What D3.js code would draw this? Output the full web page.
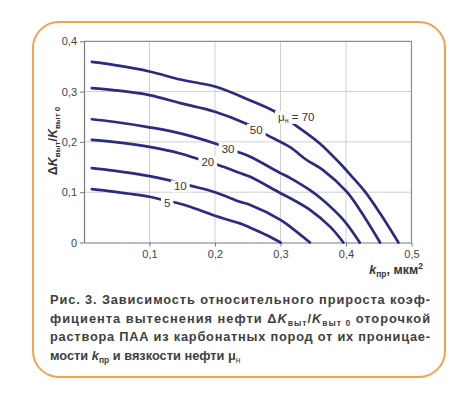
<!DOCTYPE html>
<html lang="ru">
  <head>
    <meta charset="UTF-8" />
    <title>Прирост коэффициента вытеснения</title>
    <script src="https://d3js.org/d3.v7.min.js"></script>
    <style>
      body { margin: 0; background: #fff; }
      svg text { font-family: 'Liberation Sans', Arial, sans-serif; }
      .tick text { font-size: 11px; fill: #444; }
      .curve-label { font-size: 11.5px; fill: #333; }
    </style>
  </head>
  <body>
    <div id="chart"></div>
    <script>
      // viscosity of oil, mPa*s (one curve each)
      const viscosity = [5, 10, 20, 30, 50, 70];

      // permeability k_пр, mkm2  /  relative increment ΔK/K0
      const k5 = [0.012, 0.045, 0.1, 0.119, 0.141, 0.162, 0.2, 0.238, 0.253, 0.28, 0.3];
      const v5 = [0.106, 0.101, 0.091, 0.085, 0.079, 0.071, 0.053, 0.038, 0.03, 0.014, 0];

      const k10 = [0.012, 0.045, 0.1, 0.129, 0.162, 0.2, 0.238, 0.253, 0.3, 0.315, 0.345];
      const v10 = [0.148, 0.143, 0.132, 0.124, 0.113, 0.1, 0.081, 0.075, 0.045, 0.031, 0];

      const k20 = [0.012, 0.045, 0.1, 0.147, 0.172, 0.205, 0.238, 0.253, 0.3, 0.315, 0.345, 0.376, 0.396];
      const v20 = [0.204, 0.2, 0.19, 0.177, 0.167, 0.154, 0.138, 0.131, 0.098, 0.088, 0.065, 0.031, 0];

      const k30 = [0.012, 0.045, 0.1, 0.147, 0.2, 0.233, 0.253, 0.3, 0.315, 0.345, 0.365, 0.396, 0.421];
      const v30 = [0.245, 0.24, 0.229, 0.217, 0.197, 0.181, 0.171, 0.138, 0.128, 0.104, 0.084, 0.045, 0];

      const k50 = [0.012, 0.045, 0.1, 0.147, 0.2, 0.246, 0.279, 0.314, 0.34, 0.365, 0.401, 0.421, 0.452];
      const v50 = [0.307, 0.303, 0.293, 0.277, 0.26, 0.237, 0.214, 0.19, 0.164, 0.144, 0.101, 0.065, 0];

      const k70 = [0.012, 0.045, 0.1, 0.147, 0.2, 0.253, 0.292, 0.322, 0.36, 0.391, 0.409, 0.429, 0.452, 0.48];
      const v70 = [0.359, 0.353, 0.34, 0.324, 0.31, 0.283, 0.26, 0.234, 0.197, 0.157, 0.131, 0.101, 0.058, 0];

      // where each curve label sits (in data units)
      const labelK = [0.127, 0.147, 0.189, 0.22, 0.263, 0.324];
      const labelV = [0.079, 0.112, 0.16, 0.187, 0.224, 0.25];

      const xTicks = [0.1, 0.2, 0.3, 0.4, 0.5];
      const yTicks = [0, 0.1, 0.2, 0.3, 0.4];

      const captionLines = [
        'Рис. 3. Зависимость относительного прироста коэф-',
        'фициента вытеснения нефти ',
        'раствора ПАА из карбонатных пород от их проницае-',
        'мости '
      ];

      const series = [
        { k: k5, v: v5 },
        { k: k10, v: v10 },
        { k: k20, v: v20 },
        { k: k30, v: v30 },
        { k: k50, v: v50 },
        { k: k70, v: v70 }
      ].map((s, i) => ({
        mu: viscosity[i],
        lk: labelK[i],
        lv: labelV[i],
        points: s.k.map((d, j) => ({ k: d, v: s.v[j] }))
      }));

      const W = 476, H = 399;
      const margin = { top: 41.3, left: 84 };
      const width = 327.5, height = 201.2;

      const root = d3.select('#chart').append('svg')
        .attr('width', W)
        .attr('height', H);

      // orange frame around figure + caption
      root.append('rect')
        .attr('x', 33).attr('y', 22)
        .attr('width', 412).attr('height', 355)
        .attr('rx', 26).attr('ry', 26)
        .attr('fill', '#fff')
        .attr('stroke', '#f4a24a')
        .attr('stroke-width', 2);

      const svg = root.append('g')
        .attr('transform', 'translate(' + margin.left + ',' + margin.top + ')');

      const x = d3.scaleLinear().domain([0, 0.5]).range([0, width]);
      const y = d3.scaleLinear().domain([0, 0.4]).range([height, 0]);

      const fmt = (d) => (d === 0 ? '0' : d3.format('.1f')(d).replace('.', ','));

      // grid
      svg.append('g')
        .selectAll('line')
        .data(xTicks.slice(0, -1))
        .join('line')
        .attr('x1', (d) => x(d)).attr('x2', (d) => x(d))
        .attr('y1', 0).attr('y2', height)
        .attr('stroke', '#cfcfcf');
      svg.append('g')
        .selectAll('line')
        .data(yTicks.slice(1, -1))
        .join('line')
        .attr('x1', 0).attr('x2', width)
        .attr('y1', (d) => y(d)).attr('y2', (d) => y(d))
        .attr('stroke', '#cfcfcf');

      // top and right border
      svg.append('path')
        .attr('d', 'M0,' + y(0.4) + 'H' + x(0.5) + 'V' + y(0))
        .attr('fill', 'none')
        .attr('stroke', '#8c8c8c')
        .attr('stroke-width', 1.2);

      const xAxis = svg.append('g')
        .attr('transform', 'translate(0,' + height + ')')
        .call(d3.axisBottom(x).tickValues(xTicks).tickFormat(fmt).tickSize(4).tickPadding(4).tickSizeOuter(0));
      const yAxis = svg.append('g')
        .call(d3.axisLeft(y).tickValues(yTicks).tickFormat(fmt).tickSize(4).tickPadding(3).tickSizeOuter(0));
      [xAxis, yAxis].forEach((a) => {
        a.select('.domain').attr('stroke', '#7a7a7a').attr('stroke-width', 1.2);
        a.selectAll('.tick line').attr('stroke', '#7a7a7a');
      });

      const line = d3.line()
        .x((d) => x(d.k))
        .y((d) => y(d.v))
        .curve(d3.curveCatmullRom.alpha(0.5));

      svg.append('g')
        .selectAll('path')
        .data(series)
        .join('path')
        .attr('d', (d) => line(d.points))
        .attr('fill', 'none')
        .attr('stroke', '#2c2b82')
        .attr('stroke-width', 2.7)
        .attr('stroke-linecap', 'round');

      // curve labels with white gap behind them
      const labels = svg.append('g')
        .selectAll('g')
        .data(series)
        .join('g')
        .attr('transform', (d) => 'translate(' + x(d.lk) + ',' + y(d.lv) + ')');
      const bg = labels.append('rect').attr('fill', '#fff');
      const lt = labels.append('text')
        .attr('class', 'curve-label')
        .attr('text-anchor', 'middle')
        .attr('dy', '0.36em');
      lt.each(function (d) {
        const t = d3.select(this);
        if (d.mu === 70) {
          t.append('tspan').text('μ');
          t.append('tspan').attr('font-size', '7px').attr('dy', '2').text('н');
          t.append('tspan').attr('dy', '-2').text(' = 70');
        } else {
          t.text(d.mu);
        }
      });
      bg.each(function () {
        const b = this.parentNode.querySelector('text').getBBox();
        d3.select(this)
          .attr('x', b.x - 3).attr('y', b.y)
          .attr('width', b.width + 6).attr('height', b.height);
      });

      // axis titles
      const yt = root.append('text')
        .attr('transform', 'translate(57,141) rotate(-90)')
        .attr('text-anchor', 'middle')
        .attr('font-size', '12.5px')
        .attr('font-weight', 'bold')
        .attr('fill', '#333');
      yt.append('tspan').text('Δ');
      yt.append('tspan').attr('font-style', 'italic').text('K');
      yt.append('tspan').attr('font-size', '8px').attr('dy', 3).text('выт');
      yt.append('tspan').attr('dy', -3).text('/');
      yt.append('tspan').attr('font-style', 'italic').text('K');
      yt.append('tspan').attr('font-size', '8px').attr('dy', 3).text('выт 0');

      const xt = root.append('text')
        .attr('x', 423).attr('y', 274)
        .attr('text-anchor', 'end')
        .attr('font-size', '12.5px')
        .attr('font-weight', 'bold')
        .attr('fill', '#333');
      xt.append('tspan').attr('font-style', 'italic').text('k');
      xt.append('tspan').attr('font-size', '8.5px').attr('dy', 3).text('пр');
      xt.append('tspan').attr('dy', -3).text(', мкм');
      xt.append('tspan').attr('font-size', '8.5px').attr('dy', -5).text('2');

      // caption
      const cap = root.append('g')
        .attr('font-size', '12.8px')
        .attr('font-weight', 'bold')
        .attr('fill', '#404040');
      const capY = [304, 322.5, 341, 360];
      cap.append('text')
        .attr('x', 50).attr('y', capY[0])
        .attr('textLength', 380).attr('lengthAdjust', 'spacing')
        .text(captionLines[0]);
      const c2 = cap.append('text').attr('x', 50).attr('y', capY[1])
        .attr('textLength', 380).attr('lengthAdjust', 'spacing');
      c2.append('tspan').text(captionLines[1] + 'Δ');
      c2.append('tspan').attr('font-style', 'italic').text('K');
      c2.append('tspan').attr('font-size', '8.5px').attr('dy', 3).text('выт');
      c2.append('tspan').attr('dy', -3).text('/');
      c2.append('tspan').attr('font-style', 'italic').text('K');
      c2.append('tspan').attr('font-size', '8.5px').attr('dy', 3).text('выт 0');
      c2.append('tspan').attr('dy', -3).text(' оторочкой');
      cap.append('text')
        .attr('x', 50).attr('y', capY[2])
        .attr('textLength', 380).attr('lengthAdjust', 'spacing')
        .text(captionLines[2]);
      const c4 = cap.append('text').attr('x', 50).attr('y', capY[3]);
      c4.append('tspan').text(captionLines[3]);
      c4.append('tspan').attr('font-style', 'italic').text('k');
      c4.append('tspan').attr('font-size', '8.5px').attr('dy', 3).text('пр');
      c4.append('tspan').attr('dy', -3).text(' и вязкости нефти μ');
      c4.append('tspan').attr('font-size', '8.5px').attr('font-weight', 'normal').attr('dy', 3).text('н');
    </script>
  </body>
</html>
